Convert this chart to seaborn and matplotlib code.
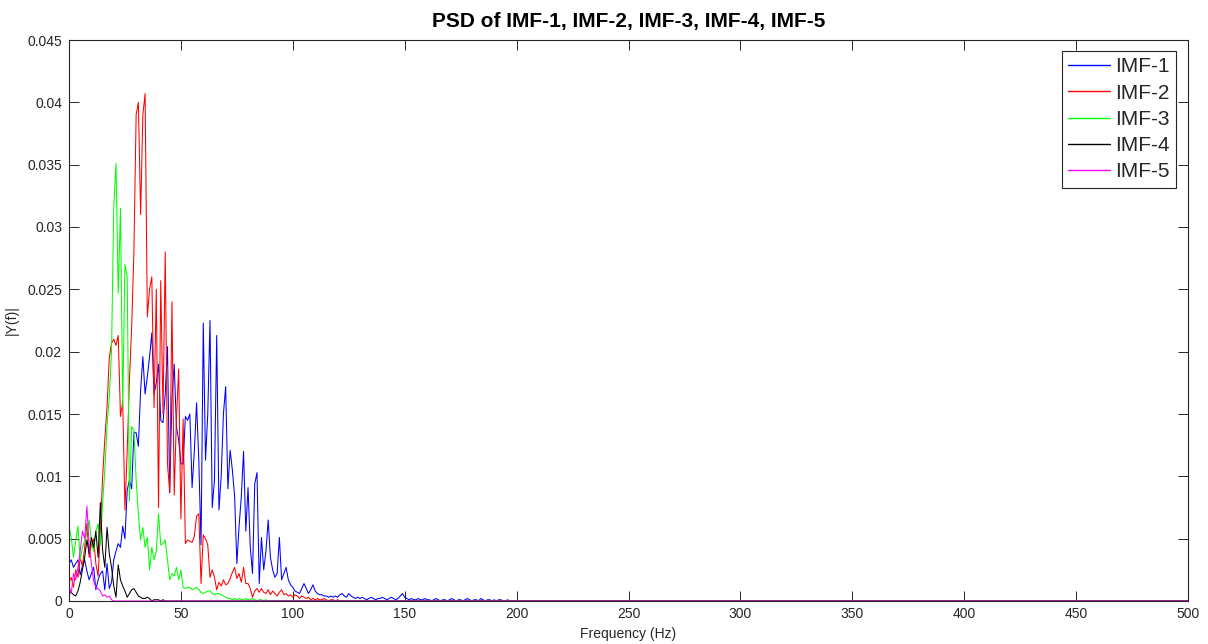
import numpy as np
import pandas as pd
import matplotlib
matplotlib.use("Agg")
import matplotlib.pyplot as plt
import seaborn as sns

# ---- data (values in units of 1e-3, one value per 1 Hz starting at 0 Hz) ----
imf1_milli = [3.0, 3.3, 2.7, 3.0, 3.3, 2.1, 2.8, 3.3, 2.4, 1.7,
              2.2, 2.7, 0.9, 1.7, 2.2, 2.4, 0.9, 3.0, 1.0, 1.5,
              3.3, 4.0, 4.6, 4.3, 6.0, 5.0, 8.9, 9.7, 9.0, 13.5,
              13.5, 12.4, 16.9, 19.6, 16.6, 18.0, 19.6, 21.5, 16.6, 17.5,
              19.0, 14.5, 14.3, 16.6, 20.4, 8.7, 16.3, 19.0, 14.0, 12.9,
              11.0, 11.0, 14.8, 14.5, 15.0, 9.1, 12.0, 15.9, 11.3, 4.5,
              22.3, 11.3, 15.0, 22.5, 7.5, 9.7, 21.3, 7.3, 10.0, 15.0,
              17.2, 9.0, 12.1, 10.5, 8.4, 3.0, 6.0, 8.4, 12.0, 5.6,
              9.1, 4.3, 2.2, 9.4, 10.3, 1.4, 5.1, 2.5, 4.0, 6.5,
              3.5, 2.5, 1.9, 2.2, 5.1, 1.7, 2.2, 2.7, 1.7, 1.3,
              1.1, 0.8, 0.7, 0.6, 1.0, 1.4, 1.0, 0.6, 0.9, 1.3,
              0.8, 0.6, 0.5, 0.5, 0.4, 0.4, 0.3, 0.4, 0.3, 0.4,
              0.3, 0.5, 0.6, 0.4, 0.3, 0.6, 0.4, 0.3, 0.2, 0.3,
              0.2, 0.3, 0.2, 0.1, 0.2, 0.3, 0.2, 0.1, 0.2, 0.2,
              0.3, 0.2, 0.1, 0.2, 0.3, 0.2, 0.1, 0.2, 0.4, 0.6,
              0.3, 0.2, 0.1, 0.2, 0.1, 0.1, 0.2, 0.1, 0.1, 0.2,
              0.1, 0.1, 0.0, 0.1, 0.2, 0.1, 0.0, 0.1, 0.1, 0.0,
              0.1, 0.2, 0.1, 0.0, 0.1, 0.1, 0.0, 0.1, 0.2, 0.1,
              0.0, 0.1, 0.1, 0.0, 0.2, 0.1, 0.0, 0.1, 0.1, 0.0,
              0.1, 0.0, 0.1, 0.1, 0.0, 0.0, 0.1, 0.0, 0.0, 0.0,
              0.0]
imf2_milli = [1.5, 1.9, 1.1, 2.5, 1.9, 3.5, 2.8, 4.3, 6.2, 3.5,
              4.5, 5.0, 3.0, 2.0, 5.5, 9.9, 13.0, 15.6, 19.5, 20.7,
              21.0, 20.5, 21.3, 14.8, 16.0, 7.3, 12.0, 17.7, 22.0, 28.0,
              39.0, 40.0, 31.0, 39.0, 40.7, 22.8, 25.0, 26.0, 15.5, 25.0,
              7.5, 25.7, 15.0, 28.0, 11.0, 8.7, 24.0, 8.5, 14.6, 18.6,
              6.6, 14.6, 4.6, 4.9, 4.8, 4.7, 5.2, 6.8, 7.0, 1.4,
              5.3, 5.0, 4.5, 1.9, 2.5, 1.9, 0.9, 1.5, 1.2, 1.7,
              1.3, 1.4, 1.8, 2.3, 2.7, 1.8, 2.2, 1.5, 2.7, 1.4,
              1.4, 1.0, 0.3, 0.8, 1.0, 0.7, 1.0, 0.7, 0.6, 0.9,
              0.5, 0.8, 0.6, 0.4, 0.7, 0.9, 0.5, 0.6, 0.4, 0.5,
              0.3, 0.5, 0.4, 0.2, 0.4, 0.3, 0.2, 0.3, 0.1, 0.2,
              0.1, 0.2, 0.1, 0.1, 0.2, 0.1, 0.0, 0.1, 0.1, 0.0,
              0.1, 0.0, 0.0]
imf3_milli = [6.0, 5.1, 3.5, 4.8, 6.0, 3.3, 4.3, 4.8, 5.5, 6.5,
              4.8, 4.0, 5.6, 6.2, 4.5, 7.8, 10.5, 14.0, 16.4, 20.0,
              31.6, 35.1, 24.7, 31.5, 15.5, 27.0, 26.0, 8.0, 14.0, 13.7,
              9.7, 7.0, 4.9, 5.9, 4.3, 5.1, 2.5, 4.3, 3.3, 4.0,
              7.0, 4.5, 4.6, 4.9, 3.3, 1.7, 2.2, 2.0, 2.7, 1.7,
              2.5, 1.1, 1.0, 1.1, 1.1, 0.9, 1.0, 1.1, 0.9, 0.7,
              0.6, 0.7, 0.8, 0.8, 0.6, 0.5, 0.6, 0.6, 0.5, 0.4,
              0.3, 0.2, 0.2, 0.1, 0.2, 0.1, 0.2, 0.1, 0.1, 0.2,
              0.1, 0.1, 0.2, 0.1, 0.0, 0.1, 0.1, 0.0, 0.1, 0.0,
              0.0]
imf4_milli = [0.6, 0.7, 0.5, 0.4, 0.8, 1.5, 2.5, 3.5, 4.9, 3.8,
              5.1, 4.3, 5.6, 3.5, 7.9, 4.1, 2.7, 5.9, 3.8, 2.7,
              1.2, 0.3, 2.9, 1.7, 1.2, 0.8, 0.3, 0.6, 0.9, 1.0,
              0.7, 0.4, 0.3, 0.2, 0.2, 0.3, 0.2, 0.0, 0.1, 0.1,
              0.1, 0.0, 0.1, 0.0, 0.0]
imf5_milli = [1.2, 0.6, 2.2, 1.7, 2.7, 4.0, 5.6, 5.0, 7.6, 4.5,
              3.0, 1.6, 1.1, 1.0, 0.8, 0.4, 0.5, 0.3, 0.4, 0.1,
              0.0, 0.0]
series_names = ["IMF-1", "IMF-2", "IMF-3", "IMF-4", "IMF-5"]
series_colors = ["#0000ff", "#ff0000", "#00ff00", "#000000", "#ff00ff"]
f_max = 500
x_ticks = [0, 50, 100, 150, 200, 250, 300, 350, 400, 450, 500]
y_ticks = [0, 0.005, 0.01, 0.015, 0.02, 0.025, 0.03, 0.035, 0.04, 0.045]

# ---- long-form table ----
rows = []
for name, vals in zip(series_names,
                      [imf1_milli, imf2_milli, imf3_milli, imf4_milli, imf5_milli]):
    for f, v in enumerate(vals):
        rows.append((name, float(f), v / 1000.0))
    rows.append((name, float(f_max), 0.0))   # flat zero tail up to 500 Hz
df = pd.DataFrame(rows, columns=["imf", "freq", "psd"])

# ---- style ----
sns.set_theme(style="white")
plt.rcParams["font.family"] = ["Liberation Sans", "DejaVu Sans"]
axis_col = "#262626"

fig = plt.figure(figsize=(12.08, 6.44), dpi=100)
ax = fig.add_axes([69 / 1208, 1 - 601 / 644, 1119 / 1208, 561 / 644])

sns.lineplot(data=df, x="freq", y="psd", hue="imf", hue_order=series_names,
             palette=dict(zip(series_names, series_colors)),
             estimator=None, sort=False, linewidth=0.75, ax=ax)

ax.set_xlim(0, 500)
ax.set_ylim(0, 0.045)
ax.set_xticks(x_ticks)
ax.set_yticks(y_ticks)
ax.set_xticklabels([f"{t:g}" for t in x_ticks])
ax.set_yticklabels([f"{t:g}" for t in y_ticks])

for s in ax.spines.values():
    s.set_visible(True)
    s.set_color(axis_col)
    s.set_linewidth(0.8)
ax.tick_params(direction="in", length=7, width=0.7, color=axis_col,
               labelcolor=axis_col, labelsize=10,
               top=True, right=True, bottom=True, left=True)
ax.tick_params(axis="x", pad=4)
ax.tick_params(axis="y", pad=5)

ax.set_xlabel("Frequency (Hz)", fontsize=10, color=axis_col)
ax.set_ylabel("|Y(f)|", fontsize=10, color=axis_col)
ax.xaxis.set_label_coords(0.5, -0.046)
ax.yaxis.set_label_coords(-0.045, 0.5)
ax.set_title("PSD of IMF-1, IMF-2, IMF-3, IMF-4, IMF-5", fontsize=15,
             fontweight="bold", color="#000000", pad=9)

old = ax.get_legend()
handles = list(old.legend_handles)
labels = [t.get_text() for t in old.get_texts()]
old.remove()
leg = ax.legend(handles, labels, loc="upper right",
                bbox_to_anchor=(1 - 12 / 1119, 1 - 11 / 561),
                borderaxespad=0, fontsize=15, frameon=True, fancybox=False,
                framealpha=1, edgecolor=axis_col, borderpad=0.3,
                labelspacing=0.35, handlelength=2.0, handletextpad=0.25)
leg.get_frame().set_linewidth(0.8)
for h in leg.legend_handles:
    h.set_linewidth(1.0)

fig.savefig("out.png", dpi=100, facecolor="white")
